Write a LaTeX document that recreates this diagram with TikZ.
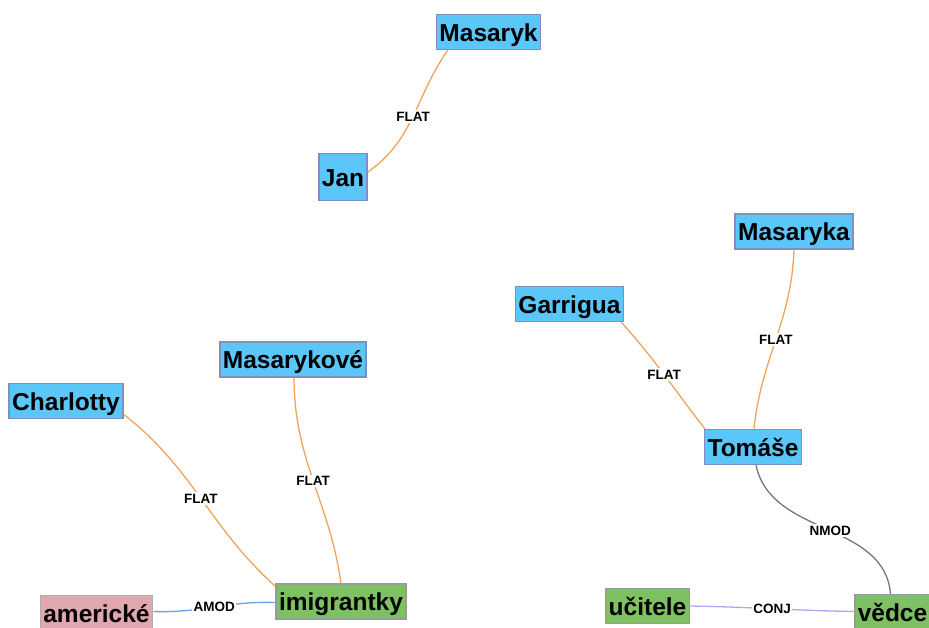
\documentclass[tikz,border=0pt]{standalone}
\usepackage{fontspec}
\setmainfont{Liberation Sans}
\begin{document}
\begin{tikzpicture}[x=1pt,y=1pt,
  word/.style={line width=1.5pt, rectangle, inner xsep=3pt, inner ysep=0pt,
    text height=18pt, text depth=0pt,
    minimum height=35pt, font=\fontsize{24.5}{28}\selectfont\bfseries, text=black},
  proper/.style={word, fill=bluefill, draw=blueedge},
  common/.style={word, fill=greenfill, draw=grayedge},
  adj/.style={word, fill=pinkfill, draw=grayedge!80},
  rel/.style={line width=1.3pt},
  flat/.style={rel, draw=flatcol},
  lbl/.style={fill=white, inner sep=1.5pt, font=\fontsize{13.5}{15}\selectfont\bfseries, text=black}
]
\definecolor{bluefill}{HTML}{5BC6F8}
\definecolor{blueedge}{HTML}{7F8FC4}
\definecolor{greenfill}{HTML}{7DC162}
\definecolor{grayedge}{HTML}{9A9A9A}
\definecolor{pinkfill}{HTML}{E0A7B0}
\definecolor{flatcol}{HTML}{F2A35A}
\definecolor{amodcol}{HTML}{6F9EEA}
\definecolor{conjcol}{HTML}{AFA6F2}
\definecolor{nmodcol}{HTML}{777777}

\useasboundingbox (0,0) rectangle (929,-627);
\clip (0,0) rectangle (929,-627);

% words
\node[proper] (masaryk) at (488.5,-32) {Masaryk};
\node[proper, minimum width=48pt, minimum height=47pt] (jan) at (343,-177) {Jan};
\node[proper] (masaryka) at (794,-231.5) {Masaryka};
\node[proper] (garrigua) at (569.5,-304) {Garrigua};
\node[proper] (masarykove) at (293,-359.5) {Masarykové};
\node[proper] (charlotty) at (66,-401) {Charlotty};
\node[proper] (tomase) at (753,-447) {Tomáše};
\node[common] (imigrantky) at (341,-601.5) {imigrantky};
\node[adj] (americke) at (96.5,-613) {americké};
\node[common] (ucitele) at (647.5,-606) {učitele};
\node[common] (vedce) at (892.5,-612) {vědce};

% relations
\draw[flat] ([yshift=5pt]jan.east) to[out=35,in=-125]
  node[lbl, pos=0.5] {FLAT} ([xshift=12pt]masaryk.south west);
\draw[flat] ([xshift=-3pt]garrigua.south east) to[out=-48,in=128]
  node[lbl, pos=0.5] {FLAT} ([xshift=1pt]tomase.north west);
\draw[flat] (masaryka.south) to[out=-92,in=84]
  node[lbl, pos=0.5] {FLAT} ([xshift=1pt]tomase.north);
\draw[flat] ([xshift=1pt]masarykove.south) to[out=-90,in=98]
  node[lbl, pos=0.5] {FLAT} ([xshift=0pt]imigrantky.north);
\draw[flat] ([yshift=5pt]charlotty.south east) to[out=-38,in=138]
  node[lbl, pos=0.5] {FLAT} ([yshift=-3pt]imigrantky.north west);
\draw[rel, amodcol] ([yshift=1.5pt]americke.east) to[out=-2,in=178]
  node[lbl, pos=0.5] {AMOD} ([yshift=-1pt]imigrantky.west);
\draw[rel, nmodcol] ([xshift=3pt]tomase.south) to[out=-78,in=95]
  node[lbl, pos=0.52] {NMOD} ([xshift=-2pt]vedce.north);
\draw[rel, conjcol] ([yshift=0pt]ucitele.east) to[out=-1,in=179]
  node[lbl, pos=0.5] {CONJ} ([yshift=0.5pt]vedce.west);
\end{tikzpicture}
\end{document}
